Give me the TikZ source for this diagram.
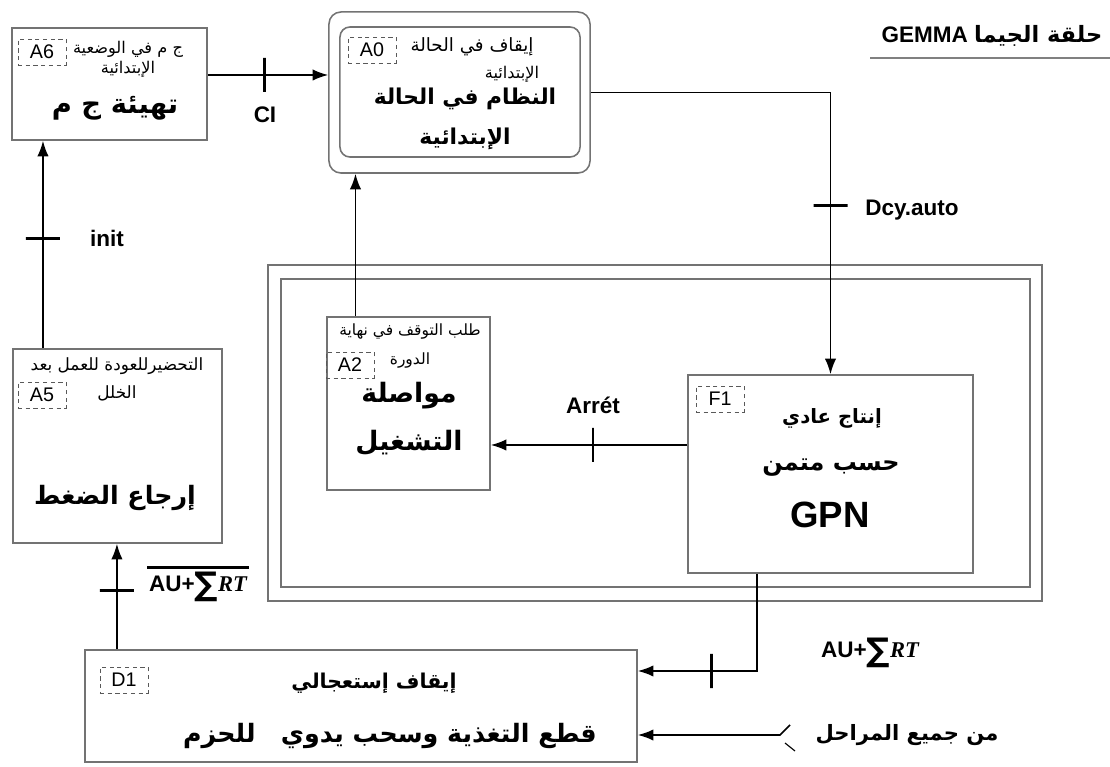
\documentclass[tikz,border=0pt]{standalone}
\usepackage{fontspec}
\setmainfont{Liberation Sans}
\newfontfamily\arabicfont[Script=Arabic]{DejaVu Sans}
\newfontfamily\symfont{DejaVu Sans}
\newfontfamily\rtfont{Liberation Serif}
\TeXXeTstate=1
\usetikzlibrary{arrows.meta}
\newcommand{\artxt}[1]{{\arabicfont\beginR #1\endR}}
\newcommand{\sumrt}{AU+\raisebox{-0.2em}{\scalebox{1.45}{\symfont ∑}}{\rtfont\bfseries\itshape RT}}

\begin{document}
\begin{tikzpicture}[x=0.025cm, y=-0.025cm,
	stepbox/.style={draw=gray!90!black, line width=1.1pt, inner sep=0pt},
	codebox/.style={draw=gray!70!black, dashed, dash pattern=on 3pt off 2.5pt, minimum width=1.2cm, minimum height=0.65cm, inner sep=0pt, font=\fontsize{14}{14}\selectfont},
	arr/.style={-{Latex[length=11pt, width=8pt]}, line width=1.1pt},
	vtick/.style={draw, line width=2pt, minimum width=0pt, minimum height=0.85cm, inner sep=0pt},
	htick/.style={draw, line width=2pt, minimum width=0.85cm, minimum height=0pt, inner sep=0pt},
	lbl/.style={font=\fontsize{16}{16}\selectfont\bfseries},
	smallar/.style={font=\fontsize{11.5}{14}\selectfont, align=center, inner sep=0pt},
	midar/.style={font=\fontsize{13}{16}\selectfont, align=center, inner sep=0pt},
	bigar/.style={font=\fontsize{19.5}{26}\selectfont\bfseries, align=center, inner sep=0pt}]
	\useasboundingbox (0,0) rectangle (1110,767);
	% Boxes:
	\node[stepbox, minimum width=4.875cm, minimum height=2.8cm] (A6) at (109.5,84) {};
	\node[stepbox, rounded corners=0.3cm, minimum width=6.525cm, minimum height=4.025cm] (A0) at (459.5,92.5) {};
	\node[stepbox, rounded corners=0.25cm, minimum width=6cm, minimum height=3.25cm] (A0in) at (460,92) {};
	\node[stepbox, minimum width=19.35cm, minimum height=8.4cm] (frame) at (655,433) {};
	\node[stepbox, minimum width=18.725cm, minimum height=7.7cm] (framein) at (655.5,433) {};
	\node[stepbox, fill=white, minimum width=4.075cm, minimum height=4.325cm] (A2) at (408.5,403.5) {};
	\node[stepbox, fill=white, minimum width=7.125cm, minimum height=4.95cm] (F1) at (830.5,474) {};
	\node[stepbox, minimum width=5.225cm, minimum height=4.85cm] (A5) at (117.5,446) {};
	\node[stepbox, minimum width=13.8cm, minimum height=2.8cm] (D1) at (361,706) {};
	% Step codes:
	\node[codebox] (c6) at (42,52) {A6};
	\node[codebox] (c0) at (372,50) {A0};
	\node[codebox] (c2) at (350,365) {A2};
	\node[codebox] (c5) at (42,395) {A5};
	\node[codebox] (c1) at (720,399) {F1};
	\node[codebox] (cd) at (124,680) {D1};
	% Texts in the boxes:
	\node[smallar] (t6a) at (128,59) {\artxt{ج م في الوضعية}\\\artxt{الإبتدائية}};
	\node[bigar] (t6b) at (115,108) {\artxt{تهيئة ج م}};
	\node[midar] (t0a) at (472,47) {\artxt{إيقاف في الحالة}};
	\node[smallar] (t0b) at (512,74) {\artxt{الإبتدائية}};
	\node[bigar, font=\fontsize{15.5}{28}\selectfont\bfseries] (t0c) at (465,119) {\artxt{النظام في الحالة}\\\artxt{الإبتدائية}};
	\node[smallar, font=\fontsize{11}{20}\selectfont] (t2a) at (410,346) {\artxt{طلب التوقف في نهاية}\\\artxt{الدورة}};
	\node[bigar, font=\fontsize{19}{34}\selectfont\bfseries] (t2b) at (409,419) {\artxt{مواصلة}\\\artxt{التشغيل}};
	\node[smallar, font=\fontsize{12}{20}\selectfont] (t5a) at (117,379) {\artxt{التحضيرللعودة للعمل بعد}\\\artxt{الخلل}};
	\node[bigar, font=\fontsize{18}{22}\selectfont\bfseries] (t5b) at (115,498) {\artxt{إرجاع الضغط}};
	\node[midar, font=\fontsize{14}{16}\selectfont\bfseries] (t1a) at (832,418) {\artxt{إنتاج عادي}};
	\node[bigar, font=\fontsize{17}{22}\selectfont\bfseries] (t1b) at (831,468) {\artxt{حسب متمن}};
	\node[font=\fontsize{26}{26}\selectfont\bfseries, inner sep=0pt] (t1c) at (830,515) {GPN};
	\node[midar, font=\fontsize{14.5}{16}\selectfont\bfseries] (tda) at (374,683) {\artxt{إيقاف إستعجالي}};
	\node[bigar, font=\fontsize{18}{22}\selectfont\bfseries] (tdb) at (390,736) {\artxt{قطع التغذية وسحب يدوي\quad للحزم}};
	% Title:
	\node[font=\fontsize{16}{16}\selectfont\bfseries, inner xsep=8pt, inner ysep=8pt] (title) at (992,36) {GEMMA \artxt{حلقة الجيما}};
	\draw[gray, line width=1.5pt] (title.south west) -- (title.south east);
	% Labels:
	\node[lbl] (lci) at (265,115) {CI};
	\node[lbl] (linit) at (107,238) {init};
	\node[lbl] (ldcy) at (912,210) {Dcy.auto};
	\node[lbl] (larr) at (593,405) {Arrét};
	\node[lbl] (lau) at (870,653) {\sumrt};
	\node[lbl, inner sep=1pt] (lnau) at (198,587) {\sumrt};
	\draw[line width=1.8pt] ([yshift=2pt]lnau.north west) -- ([yshift=2pt]lnau.north east);
	\node[midar, font=\fontsize{15}{16}\selectfont\bfseries] (lall) at (907,735) {\artxt{من جميع المراحل}};
	% Connectors:
	\draw[arr] ([yshift=0.225cm]A6.east) coordinate (a6o) -- node[vtick, pos=0.47]{} (A0.west |- a6o);
	\draw[arr] (A0.east) -| node[htick, pos=0.70]{} (F1.north);
	\draw[arr] ([yshift=0.725cm]F1.west) coordinate (f1o) -- node[vtick, pos=0.48]{} (A2.east |- f1o);
	\draw[arr] ([xshift=-1.325cm]A2.north) coordinate (a2o) -- (A0.south -| a2o);
	\draw[arr] ([xshift=-1.8625cm]A5.north) coordinate (a5o) -- node[htick, pos=0.53]{} (A6.south -| a5o);
	\draw[arr] ([xshift=-6.1cm]D1.north) coordinate (d1o) -- node[htick, pos=0.56]{} (A5.south -| d1o);
	\draw[arr] ([xshift=-1.8375cm]F1.south) |- node[vtick, pos=0.69]{} ([yshift=0.875cm]D1.east);
	\coordinate (sw) at (790,725);
	\draw[arr] (sw) -- ++(-10,10) coordinate (swb) -- (D1.east |- swb);
	\draw[line width=0.8pt] (785,743) -- (795,751);
\end{tikzpicture}
\end{document}
